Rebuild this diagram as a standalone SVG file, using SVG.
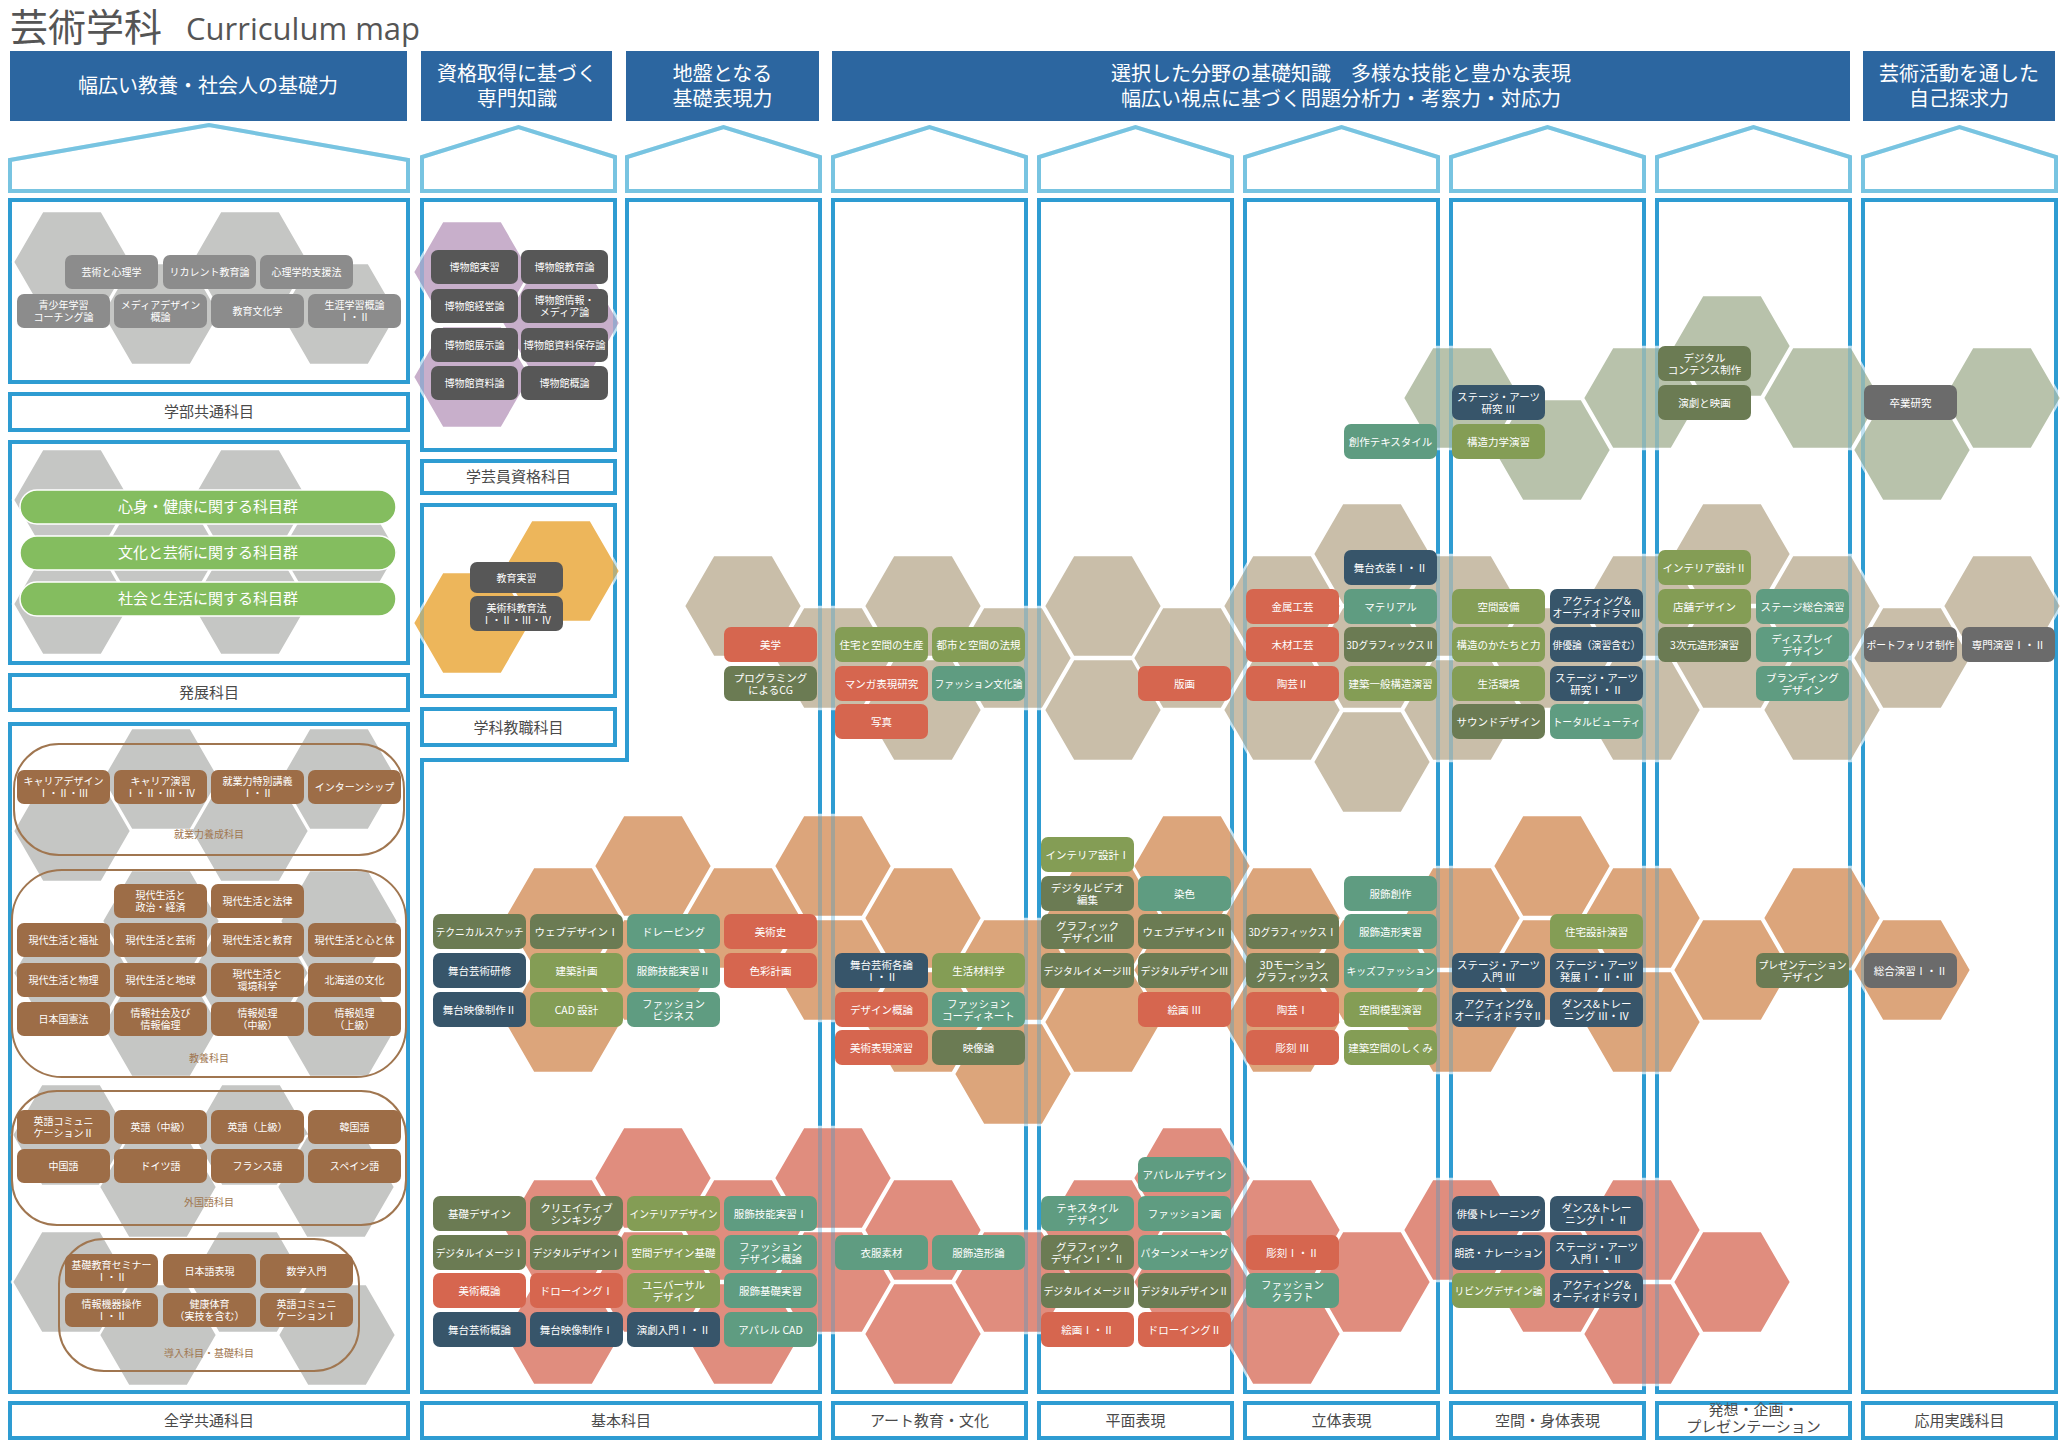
<svg xmlns="http://www.w3.org/2000/svg" xmlns:xlink="http://www.w3.org/1999/xlink" width="2066" height="1448" viewBox="0 0 2066 1448">
<style>
.hd{fill:#2C66A0}
.ht{font-family:"Noto Sans CJK JP","Noto Sans",sans-serif;font-size:20px;fill:#fff;text-anchor:middle}
.pt{fill:none;stroke:#78C4E1;stroke-width:4}
.bd{fill:none;stroke:#2E9CD2;stroke-width:4}
.lt{font-family:"Noto Sans CJK JP","Noto Sans",sans-serif;font-size:15px;fill:#4a4a4a;text-anchor:middle}
.t{font-family:"Noto Sans CJK JP","Noto Sans",sans-serif;font-size:10.5px;fill:#fff;text-anchor:middle}
.t2{font-family:"Noto Sans CJK JP","Noto Sans",sans-serif;font-size:10px;fill:#fff;text-anchor:middle}
.gl{font-family:"Noto Sans CJK JP","Noto Sans",sans-serif;font-size:10px;fill:#A07650;text-anchor:middle}
.hx{stroke:#fff;stroke-width:2.5}
.hg{fill:#C5C6C4}.hp{fill:#C8AFCB}.hy{fill:#EDB65B}.hb{fill:#C9BEA9}.hgr{fill:#B8C2AB}.ho{fill:#DCA57B}.hr{fill:#E08D7E}
.dol{fill:#6B7B53}.lol{fill:#849D55}.tea{fill:#5F9C81}.nav{fill:#37556A}.red{fill:#D6664F}.gry{fill:#6B6B6B}.mus{fill:#575757}.lg{fill:#8C8C8C}.brn{fill:#9D6D47}
.grp{fill:none;stroke:#A07650;stroke-width:2}
.bar{fill:#84BD5F;stroke:#fff;stroke-width:1.5}
.bt{font-family:"Noto Sans CJK JP","Noto Sans",sans-serif;font-size:15px;fill:#fff;text-anchor:middle}
</style>
<defs>
<polygon id="hx" points="59,0 29.5,51.1 -29.5,51.1 -59,0 -29.5,-51.1 29.5,-51.1"/>
</defs>
<rect width="2066" height="1448" fill="#fff"/>
<g id="title">
<text x="10" y="41" font-family="Noto Sans CJK JP, Noto Sans, sans-serif" font-size="38" fill="#555">芸術学科</text>
<text x="186" y="40" font-family="Open Sans, Liberation Sans, sans-serif" font-size="31" fill="#555">Curriculum map</text>
</g>
<g id="headers">
<rect class="hd" x="10" y="51" width="397" height="70"/>
<text class="ht" x="208" y="93">幅広い教養・社会人の基礎力</text>
<rect class="hd" x="421" y="51" width="191" height="70"/>
<text class="ht" x="517" y="81">資格取得に基づく</text><text class="ht" x="517" y="106">専門知識</text>
<rect class="hd" x="626" y="51" width="193" height="70"/>
<text class="ht" x="722.5" y="81">地盤となる</text><text class="ht" x="722.5" y="106">基礎表現力</text>
<rect class="hd" x="832" y="51" width="1018" height="70"/>
<text class="ht" x="1341" y="81">選択した分野の基礎知識　多様な技能と豊かな表現</text><text class="ht" x="1341" y="106">幅広い視点に基づく問題分析力・考察力・対応力</text>
<rect class="hd" x="1863" y="51" width="192" height="70"/>
<text class="ht" x="1959" y="81">芸術活動を通した</text><text class="ht" x="1959" y="106">自己探求力</text>
</g>
<g id="frames">
<polygon class="pt" points="10,191 10,160 209,125 408,160 408,191"/>
<polygon class="pt" points="422,191 422,157 518.5,127 615,157 615,191"/>
<polygon class="pt" points="627,191 627,157 723.5,127 820,157 820,191"/>
<polygon class="pt" points="833,191 833,157 929.5,127 1026,157 1026,191"/>
<polygon class="pt" points="1039,191 1039,157 1135.5,127 1232,157 1232,191"/>
<polygon class="pt" points="1245,191 1245,157 1341.5,127 1438,157 1438,191"/>
<polygon class="pt" points="1451,191 1451,157 1547.5,127 1644,157 1644,191"/>
<polygon class="pt" points="1657,191 1657,157 1753.5,127 1850,157 1850,191"/>
<polygon class="pt" points="1863,191 1863,157 1959.5,127 2056,157 2056,191"/>
<rect class="bd" x="10" y="200" width="398" height="182"/>
<rect class="bd" x="10" y="394" width="398" height="36"/>
<rect class="bd" x="10" y="442" width="398" height="221"/>
<rect class="bd" x="10" y="675" width="398" height="35"/>
<rect class="bd" x="10" y="724" width="398" height="668"/>
<rect class="bd" x="10" y="1403" width="398" height="35"/>
<rect class="bd" x="422" y="200" width="193" height="250"/>
<rect class="bd" x="422" y="461" width="193" height="32"/>
<rect class="bd" x="422" y="505" width="193" height="191"/>
<rect class="bd" x="422" y="709" width="193" height="36"/>
<polygon class="bd" points="627,200 820,200 820,1392 422,1392 422,760 627,760"/>
<rect class="bd" x="833" y="200" width="193" height="1192"/>
<rect class="bd" x="1039" y="200" width="193" height="1192"/>
<rect class="bd" x="1245" y="200" width="193" height="1192"/>
<rect class="bd" x="1451" y="200" width="193" height="1192"/>
<rect class="bd" x="1657" y="200" width="193" height="1192"/>
<rect class="bd" x="1863" y="200" width="193" height="1192"/>
<rect class="bd" x="422" y="1403" width="398" height="35"/>
<rect class="bd" x="833" y="1403" width="193" height="35"/>
<rect class="bd" x="1039" y="1403" width="193" height="35"/>
<rect class="bd" x="1245" y="1403" width="193" height="35"/>
<rect class="bd" x="1451" y="1403" width="193" height="35"/>
<rect class="bd" x="1657" y="1403" width="193" height="35"/>
<rect class="bd" x="1863" y="1403" width="193" height="35"/>
</g>
<g id="labels">
<text class="lt" x="209" y="417">学部共通科目</text>
<text class="lt" x="209" y="698">発展科目</text>
<text class="lt" x="209" y="1426">全学共通科目</text>
<text class="lt" x="518.5" y="482">学芸員資格科目</text>
<text class="lt" x="518.5" y="733">学科教職科目</text>
<text class="lt" x="621" y="1426">基本科目</text>
<text class="lt" x="929.5" y="1426">アート教育・文化</text>
<text class="lt" x="1135.5" y="1426">平面表現</text>
<text class="lt" x="1341.5" y="1426">立体表現</text>
<text class="lt" x="1547.5" y="1426">空間・身体表現</text>
<text class="lt" font-size="11" x="1753.5" y="1415">発想・企画・</text>
<text class="lt" font-size="11" x="1753.5" y="1432">プレゼンテーション</text>
<text class="lt" x="1959.5" y="1426">応用実践科目</text>
</g>
<g id="hexes">
<g class="hx hg">
<use href="#hx" x="72" y="262"/><use href="#hx" x="250" y="262"/><use href="#hx" x="161" y="314"/><use href="#hx" x="339" y="314"/>
<use href="#hx" x="72" y="500"/><use href="#hx" x="250" y="500"/><use href="#hx" x="161" y="552"/><use href="#hx" x="339" y="552"/><use href="#hx" x="72" y="604"/><use href="#hx" x="250" y="604"/>
<use href="#hx" x="161" y="779"/><use href="#hx" x="339" y="779"/><use href="#hx" x="72" y="831"/><use href="#hx" x="250" y="831"/>
<use href="#hx" x="161" y="921"/><use href="#hx" x="339" y="921"/><use href="#hx" x="72" y="973"/><use href="#hx" x="250" y="973"/><use href="#hx" x="161" y="1026"/><use href="#hx" x="339" y="1026"/>
<use href="#hx" x="71" y="1135"/><use href="#hx" x="251" y="1135"/><use href="#hx" x="158" y="1187"/><use href="#hx" x="336" y="1187"/>
<use href="#hx" x="71" y="1282"/><use href="#hx" x="248" y="1282"/><use href="#hx" x="158" y="1335"/><use href="#hx" x="337" y="1335"/>
</g>
<g class="hx hp"><use href="#hx" x="472" y="272"/><use href="#hx" x="561" y="323"/><use href="#hx" x="472" y="377"/></g>
<g class="hx hy"><use href="#hx" x="561" y="571"/><use href="#hx" x="472" y="623"/></g>
<g class="hx hgr">
<use href="#hx" x="1462" y="398"/><use href="#hx" x="1552" y="450"/><use href="#hx" x="1642" y="398"/><use href="#hx" x="1732" y="346"/><use href="#hx" x="1822" y="398"/><use href="#hx" x="1912" y="450"/><use href="#hx" x="2002" y="398"/>
</g>
<g class="hx hb">
<use href="#hx" x="743" y="606"/><use href="#hx" x="833" y="658"/><use href="#hx" x="923" y="606"/><use href="#hx" x="923" y="710"/><use href="#hx" x="1013" y="658"/><use href="#hx" x="1103" y="606"/><use href="#hx" x="1103" y="710"/><use href="#hx" x="1192" y="658"/><use href="#hx" x="1282" y="606"/><use href="#hx" x="1282" y="710"/><use href="#hx" x="1372" y="554"/><use href="#hx" x="1372" y="658"/><use href="#hx" x="1372" y="762"/><use href="#hx" x="1462" y="606"/><use href="#hx" x="1462" y="710"/><use href="#hx" x="1552" y="658"/><use href="#hx" x="1642" y="606"/><use href="#hx" x="1642" y="710"/><use href="#hx" x="1732" y="554"/><use href="#hx" x="1732" y="658"/><use href="#hx" x="1822" y="606"/><use href="#hx" x="1822" y="710"/><use href="#hx" x="1912" y="658"/><use href="#hx" x="2002" y="606"/>
</g>
<g class="hx ho">
<use href="#hx" x="563" y="918"/><use href="#hx" x="563" y="1022"/><use href="#hx" x="653" y="866"/><use href="#hx" x="653" y="970"/><use href="#hx" x="743" y="918"/><use href="#hx" x="833" y="866"/><use href="#hx" x="833" y="970"/><use href="#hx" x="923" y="918"/><use href="#hx" x="923" y="1022"/><use href="#hx" x="1013" y="970"/><use href="#hx" x="1013" y="1074"/><use href="#hx" x="1103" y="918"/><use href="#hx" x="1103" y="1022"/><use href="#hx" x="1192" y="866"/><use href="#hx" x="1192" y="970"/><use href="#hx" x="1282" y="918"/><use href="#hx" x="1282" y="1022"/><use href="#hx" x="1372" y="970"/><use href="#hx" x="1462" y="918"/><use href="#hx" x="1462" y="1022"/><use href="#hx" x="1552" y="866"/><use href="#hx" x="1552" y="970"/><use href="#hx" x="1642" y="918"/><use href="#hx" x="1642" y="1022"/><use href="#hx" x="1732" y="970"/><use href="#hx" x="1822" y="918"/><use href="#hx" x="1912" y="970"/>
</g>
<g class="hx hr">
<use href="#hx" x="563" y="1230"/><use href="#hx" x="563" y="1334"/><use href="#hx" x="653" y="1178"/><use href="#hx" x="653" y="1282"/><use href="#hx" x="743" y="1230"/><use href="#hx" x="743" y="1334"/><use href="#hx" x="833" y="1178"/><use href="#hx" x="833" y="1282"/><use href="#hx" x="923" y="1230"/><use href="#hx" x="923" y="1334"/><use href="#hx" x="1013" y="1282"/><use href="#hx" x="1103" y="1230"/><use href="#hx" x="1192" y="1178"/><use href="#hx" x="1192" y="1282"/><use href="#hx" x="1282" y="1230"/><use href="#hx" x="1282" y="1334"/><use href="#hx" x="1372" y="1282"/><use href="#hx" x="1462" y="1230"/><use href="#hx" x="1552" y="1282"/><use href="#hx" x="1642" y="1230"/><use href="#hx" x="1642" y="1334"/><use href="#hx" x="1732" y="1282"/>
</g>
</g>
<use href="#frames" opacity="0.3"/>
<g id="groups">
<rect class="grp" x="14" y="744" width="390" height="111" rx="45"/>
<text class="gl" x="209" y="838">就業力養成科目</text>
<rect class="grp" x="12" y="870" width="394" height="207" rx="50"/>
<text class="gl" x="209" y="1062">教養科目</text>
<rect class="grp" x="12" y="1091" width="394" height="134" rx="45"/>
<text class="gl" x="209" y="1206">外国語科目</text>
<rect class="grp" x="59" y="1239" width="300" height="132" rx="45"/>
<text class="gl" x="209" y="1357">導入科目・基礎科目</text>
</g>
<g id="bars">
<rect class="bar" x="20" y="490" width="376" height="34" rx="17"/><text class="bt" x="208" y="512">心身・健康に関する科目群</text>
<rect class="bar" x="20" y="536" width="376" height="34" rx="17"/><text class="bt" x="208" y="558">文化と芸術に関する科目群</text>
<rect class="bar" x="20" y="582" width="376" height="34" rx="17"/><text class="bt" x="208" y="604">社会と生活に関する科目群</text>
</g>
<g id="c1nodes">
<g id="a1"><rect class="lg" x="65" y="255" width="93" height="34" rx="7"/><text class="t2" x="111.5" y="275.6">芸術と心理学</text></g>
<g id="a2"><rect class="lg" x="163" y="255" width="93" height="34" rx="7"/><text class="t2" x="209.5" y="275.6">リカレント教育論</text></g>
<g id="a3"><rect class="lg" x="260" y="255" width="93" height="34" rx="7"/><text class="t2" x="306.5" y="275.6">心理学的支援法</text></g>
<g id="a4"><rect class="lg" x="17" y="294" width="93" height="34" rx="7"/><text class="t2" x="63.5" y="308.6">青少年学習</text><text class="t2" x="63.5" y="320.6">コーチング論</text></g>
<g id="a5"><rect class="lg" x="114" y="294" width="93" height="34" rx="7"/><text class="t2" x="160.5" y="308.6">メディアデザイン</text><text class="t2" x="160.5" y="320.6">概論</text></g>
<g id="a6"><rect class="lg" x="211" y="294" width="93" height="34" rx="7"/><text class="t2" x="257.5" y="314.6">教育文化学</text></g>
<g id="a7"><rect class="lg" x="308" y="294" width="93" height="34" rx="7"/><text class="t2" x="354.5" y="308.6">生涯学習概論</text><text class="t2" x="354.5" y="320.6">Ⅰ・Ⅱ</text></g>
<g id="b1"><rect class="brn" x="17" y="770" width="93" height="34" rx="7"/><text class="t2" x="63.5" y="784.6">キャリアデザイン</text><text class="t2" x="63.5" y="796.6">Ⅰ・Ⅱ・Ⅲ</text></g>
<g id="b2"><rect class="brn" x="114" y="770" width="93" height="34" rx="7"/><text class="t2" x="160.5" y="784.6">キャリア演習</text><text class="t2" x="160.5" y="796.6">Ⅰ・Ⅱ・Ⅲ・Ⅳ</text></g>
<g id="b3"><rect class="brn" x="211" y="770" width="93" height="34" rx="7"/><text class="t2" x="257.5" y="784.6">就業力特別講義</text><text class="t2" x="257.5" y="796.6">Ⅰ・Ⅱ</text></g>
<g id="b4"><rect class="brn" x="308" y="770" width="93" height="34" rx="7"/><text class="t2" x="354.5" y="790.6">インターンシップ</text></g>
<g id="b5"><rect class="brn" x="114" y="884" width="93" height="34" rx="7"/><text class="t2" x="160.5" y="898.6">現代生活と</text><text class="t2" x="160.5" y="910.6">政治・経済</text></g>
<g id="b6"><rect class="brn" x="211" y="884" width="93" height="34" rx="7"/><text class="t2" x="257.5" y="904.6">現代生活と法律</text></g>
<g id="b7"><rect class="brn" x="17" y="923" width="93" height="34" rx="7"/><text class="t2" x="63.5" y="943.6">現代生活と福祉</text></g>
<g id="b8"><rect class="brn" x="114" y="923" width="93" height="34" rx="7"/><text class="t2" x="160.5" y="943.6">現代生活と芸術</text></g>
<g id="b9"><rect class="brn" x="211" y="923" width="93" height="34" rx="7"/><text class="t2" x="257.5" y="943.6">現代生活と教育</text></g>
<g id="b10"><rect class="brn" x="308" y="923" width="93" height="34" rx="7"/><text class="t2" x="354.5" y="943.6">現代生活と心と体</text></g>
<g id="b11"><rect class="brn" x="17" y="963" width="93" height="34" rx="7"/><text class="t2" x="63.5" y="983.6">現代生活と物理</text></g>
<g id="b12"><rect class="brn" x="114" y="963" width="93" height="34" rx="7"/><text class="t2" x="160.5" y="983.6">現代生活と地球</text></g>
<g id="b13"><rect class="brn" x="211" y="963" width="93" height="34" rx="7"/><text class="t2" x="257.5" y="977.6">現代生活と</text><text class="t2" x="257.5" y="989.6">環境科学</text></g>
<g id="b14"><rect class="brn" x="308" y="963" width="93" height="34" rx="7"/><text class="t2" x="354.5" y="983.6">北海道の文化</text></g>
<g id="b15"><rect class="brn" x="17" y="1002" width="93" height="34" rx="7"/><text class="t2" x="63.5" y="1022.6">日本国憲法</text></g>
<g id="b16"><rect class="brn" x="114" y="1002" width="93" height="34" rx="7"/><text class="t2" x="160.5" y="1016.6">情報社会及び</text><text class="t2" x="160.5" y="1028.6">情報倫理</text></g>
<g id="b17"><rect class="brn" x="211" y="1002" width="93" height="34" rx="7"/><text class="t2" x="257.5" y="1016.6">情報処理</text><text class="t2" x="257.5" y="1028.6">（中級）</text></g>
<g id="b18"><rect class="brn" x="308" y="1002" width="93" height="34" rx="7"/><text class="t2" x="354.5" y="1016.6">情報処理</text><text class="t2" x="354.5" y="1028.6">（上級）</text></g>
<g id="b19"><rect class="brn" x="17" y="1110" width="93" height="34" rx="7"/><text class="t2" x="63.5" y="1124.6">英語コミュニ</text><text class="t2" x="63.5" y="1136.6">ケーションⅡ</text></g>
<g id="b20"><rect class="brn" x="114" y="1110" width="93" height="34" rx="7"/><text class="t2" x="160.5" y="1130.6">英語（中級）</text></g>
<g id="b21"><rect class="brn" x="211" y="1110" width="93" height="34" rx="7"/><text class="t2" x="257.5" y="1130.6">英語（上級）</text></g>
<g id="b22"><rect class="brn" x="308" y="1110" width="93" height="34" rx="7"/><text class="t2" x="354.5" y="1130.6">韓国語</text></g>
<g id="b23"><rect class="brn" x="17" y="1149" width="93" height="34" rx="7"/><text class="t2" x="63.5" y="1169.6">中国語</text></g>
<g id="b24"><rect class="brn" x="114" y="1149" width="93" height="34" rx="7"/><text class="t2" x="160.5" y="1169.6">ドイツ語</text></g>
<g id="b25"><rect class="brn" x="211" y="1149" width="93" height="34" rx="7"/><text class="t2" x="257.5" y="1169.6">フランス語</text></g>
<g id="b26"><rect class="brn" x="308" y="1149" width="93" height="34" rx="7"/><text class="t2" x="354.5" y="1169.6">スペイン語</text></g>
<g id="b27"><rect class="brn" x="65" y="1254" width="93" height="34" rx="7"/><text class="t2" x="111.5" y="1268.6">基礎教育セミナー</text><text class="t2" x="111.5" y="1280.6">Ⅰ・Ⅱ</text></g>
<g id="b28"><rect class="brn" x="163" y="1254" width="93" height="34" rx="7"/><text class="t2" x="209.5" y="1274.6">日本語表現</text></g>
<g id="b29"><rect class="brn" x="260" y="1254" width="93" height="34" rx="7"/><text class="t2" x="306.5" y="1274.6">数学入門</text></g>
<g id="b30"><rect class="brn" x="65" y="1293" width="93" height="34" rx="7"/><text class="t2" x="111.5" y="1307.6">情報機器操作</text><text class="t2" x="111.5" y="1319.6">Ⅰ・Ⅱ</text></g>
<g id="b31"><rect class="brn" x="163" y="1293" width="93" height="34" rx="7"/><text class="t2" x="209.5" y="1307.6">健康体育</text><text class="t2" x="209.5" y="1319.6">（実技を含む）</text></g>
<g id="b32"><rect class="brn" x="260" y="1293" width="93" height="34" rx="7"/><text class="t2" x="306.5" y="1307.6">英語コミュニ</text><text class="t2" x="306.5" y="1319.6">ケーションⅠ</text></g>
</g>
<g id="c2nodes">
<g id="m1"><rect class="mus" x="431" y="250" width="87" height="34" rx="7"/><text class="t2" x="474.5" y="270.6">博物館実習</text></g>
<g id="m2"><rect class="mus" x="521" y="250" width="87" height="34" rx="7"/><text class="t2" x="564.5" y="270.6">博物館教育論</text></g>
<g id="m3"><rect class="mus" x="431" y="289" width="87" height="34" rx="7"/><text class="t2" x="474.5" y="309.6">博物館経営論</text></g>
<g id="m4"><rect class="mus" x="521" y="289" width="87" height="34" rx="7"/><text class="t2" x="564.5" y="303.6">博物館情報・</text><text class="t2" x="564.5" y="315.6">メディア論</text></g>
<g id="m5"><rect class="mus" x="431" y="328" width="87" height="34" rx="7"/><text class="t2" x="474.5" y="348.6">博物館展示論</text></g>
<g id="m6"><rect class="mus" x="521" y="328" width="87" height="34" rx="7"/><text class="t2" x="564.5" y="348.6" textLength="82" lengthAdjust="spacingAndGlyphs">博物館資料保存論</text></g>
<g id="m7"><rect class="mus" x="431" y="366" width="87" height="34" rx="7"/><text class="t2" x="474.5" y="386.6">博物館資料論</text></g>
<g id="m8"><rect class="mus" x="521" y="366" width="87" height="34" rx="7"/><text class="t2" x="564.5" y="386.6">博物館概論</text></g>
<g id="k1"><rect class="mus" x="470" y="562" width="93" height="31" rx="7"/><text class="t2" x="516.5" y="581.5">教育実習</text></g>
<g id="k2"><rect class="mus" x="470" y="596" width="93" height="35" rx="7"/><text class="t2" x="516.5" y="611.5">美術科教育法</text><text class="t2" x="516.5" y="623.5">Ⅰ・Ⅱ・Ⅲ・Ⅳ</text></g>
</g>
<g id="nodes">
<g id="n1"><rect class="red" x="724" y="627" width="93" height="35" rx="7"/><text class="t" x="770.5" y="648.5">美学</text></g>
<g id="n2"><rect class="dol" x="724" y="666" width="93" height="35" rx="7"/><text class="t" x="770.5" y="681.5">プログラミング</text><text class="t" x="770.5" y="693.5">によるCG</text></g>
<g id="n3"><rect class="lol" x="835" y="627" width="93" height="35" rx="7"/><text class="t" x="881.5" y="648.5">住宅と空間の生産</text></g>
<g id="n4"><rect class="lol" x="932" y="627" width="93" height="35" rx="7"/><text class="t" x="978.5" y="648.5">都市と空間の法規</text></g>
<g id="n5"><rect class="red" x="835" y="666" width="93" height="35" rx="7"/><text class="t" x="881.5" y="687.5">マンガ表現研究</text></g>
<g id="n6"><rect class="tea" x="932" y="666" width="93" height="35" rx="7"/><text class="t" x="978.5" y="687.5" textLength="88" lengthAdjust="spacingAndGlyphs">ファッション文化論</text></g>
<g id="n7"><rect class="red" x="835" y="704" width="93" height="35" rx="7"/><text class="t" x="881.5" y="725.5">写真</text></g>
<g id="n8"><rect class="red" x="1138" y="666" width="93" height="35" rx="7"/><text class="t" x="1184.5" y="687.5">版画</text></g>
<g id="n9"><rect class="red" x="1246" y="589" width="93" height="35" rx="7"/><text class="t" x="1292.5" y="610.5">金属工芸</text></g>
<g id="n10"><rect class="red" x="1246" y="627" width="93" height="35" rx="7"/><text class="t" x="1292.5" y="648.5">木材工芸</text></g>
<g id="n11"><rect class="red" x="1246" y="666" width="93" height="35" rx="7"/><text class="t" x="1292.5" y="687.5">陶芸Ⅱ</text></g>
<g id="n12"><rect class="nav" x="1344" y="550" width="93" height="35" rx="7"/><text class="t" x="1390.5" y="571.5">舞台衣装Ⅰ・Ⅱ</text></g>
<g id="n13"><rect class="tea" x="1344" y="589" width="93" height="35" rx="7"/><text class="t" x="1390.5" y="610.5">マテリアル</text></g>
<g id="n14"><rect class="dol" x="1344" y="627" width="93" height="35" rx="7"/><text class="t" x="1390.5" y="648.5" textLength="88" lengthAdjust="spacingAndGlyphs">3DグラフィックスⅡ</text></g>
<g id="n15"><rect class="lol" x="1344" y="666" width="93" height="35" rx="7"/><text class="t" x="1390.5" y="687.5">建築一般構造演習</text></g>
<g id="n16"><rect class="lol" x="1452" y="589" width="93" height="35" rx="7"/><text class="t" x="1498.5" y="610.5">空間設備</text></g>
<g id="n17"><rect class="lol" x="1452" y="627" width="93" height="35" rx="7"/><text class="t" x="1498.5" y="648.5">構造のかたちと力</text></g>
<g id="n18"><rect class="lol" x="1452" y="666" width="93" height="35" rx="7"/><text class="t" x="1498.5" y="687.5">生活環境</text></g>
<g id="n19"><rect class="dol" x="1452" y="704" width="93" height="35" rx="7"/><text class="t" x="1498.5" y="725.5">サウンドデザイン</text></g>
<g id="n20"><rect class="nav" x="1550" y="589" width="93" height="35" rx="7"/><text class="t" x="1596.5" y="604.5">アクティング&amp;</text><text class="t" x="1596.5" y="616.5" textLength="88" lengthAdjust="spacingAndGlyphs">オーディオドラマⅢ</text></g>
<g id="n21"><rect class="nav" x="1550" y="627" width="93" height="35" rx="7"/><text class="t" x="1596.5" y="648.5" textLength="88" lengthAdjust="spacingAndGlyphs">俳優論（演習含む）</text></g>
<g id="n22"><rect class="nav" x="1550" y="666" width="93" height="35" rx="7"/><text class="t" x="1596.5" y="681.5">ステージ・アーツ</text><text class="t" x="1596.5" y="693.5">研究Ⅰ・Ⅱ</text></g>
<g id="n23"><rect class="tea" x="1550" y="704" width="93" height="35" rx="7"/><text class="t" x="1596.5" y="725.5" textLength="88" lengthAdjust="spacingAndGlyphs">トータルビューティ</text></g>
<g id="n24"><rect class="lol" x="1658" y="550" width="93" height="35" rx="7"/><text class="t" x="1704.5" y="571.5">インテリア設計Ⅱ</text></g>
<g id="n25"><rect class="lol" x="1658" y="589" width="93" height="35" rx="7"/><text class="t" x="1704.5" y="610.5">店舗デザイン</text></g>
<g id="n26"><rect class="dol" x="1658" y="627" width="93" height="35" rx="7"/><text class="t" x="1704.5" y="648.5">3次元造形演習</text></g>
<g id="n27"><rect class="tea" x="1756" y="589" width="93" height="35" rx="7"/><text class="t" x="1802.5" y="610.5">ステージ総合演習</text></g>
<g id="n28"><rect class="tea" x="1756" y="627" width="93" height="35" rx="7"/><text class="t" x="1802.5" y="642.5">ディスプレイ</text><text class="t" x="1802.5" y="654.5">デザイン</text></g>
<g id="n29"><rect class="tea" x="1756" y="666" width="93" height="35" rx="7"/><text class="t" x="1802.5" y="681.5">ブランディング</text><text class="t" x="1802.5" y="693.5">デザイン</text></g>
<g id="n30"><rect class="gry" x="1864" y="627" width="93" height="35" rx="7"/><text class="t" x="1910.5" y="648.5" textLength="88" lengthAdjust="spacingAndGlyphs">ポートフォリオ制作</text></g>
<g id="n31"><rect class="gry" x="1962" y="627" width="93" height="35" rx="7"/><text class="t" x="2008.5" y="648.5">専門演習Ⅰ・Ⅱ</text></g>
<g id="n32"><rect class="tea" x="1344" y="424" width="93" height="35" rx="7"/><text class="t" x="1390.5" y="445.5">創作テキスタイル</text></g>
<g id="n33"><rect class="nav" x="1452" y="385" width="93" height="35" rx="7"/><text class="t" x="1498.5" y="400.5">ステージ・アーツ</text><text class="t" x="1498.5" y="412.5">研究 Ⅲ</text></g>
<g id="n34"><rect class="lol" x="1452" y="424" width="93" height="35" rx="7"/><text class="t" x="1498.5" y="445.5">構造力学演習</text></g>
<g id="n35"><rect class="dol" x="1658" y="346" width="93" height="35" rx="7"/><text class="t" x="1704.5" y="361.5">デジタル</text><text class="t" x="1704.5" y="373.5">コンテンス制作</text></g>
<g id="n36"><rect class="dol" x="1658" y="385" width="93" height="35" rx="7"/><text class="t" x="1704.5" y="406.5">演劇と映画</text></g>
<g id="n37"><rect class="gry" x="1864" y="385" width="93" height="35" rx="7"/><text class="t" x="1910.5" y="406.5">卒業研究</text></g>
<g id="n38"><rect class="dol" x="433" y="914" width="93" height="35" rx="7"/><text class="t" x="479.5" y="935.5" textLength="88" lengthAdjust="spacingAndGlyphs">テクニカルスケッチ</text></g>
<g id="n39"><rect class="nav" x="433" y="953" width="93" height="35" rx="7"/><text class="t" x="479.5" y="974.5">舞台芸術研修</text></g>
<g id="n40"><rect class="nav" x="433" y="992" width="93" height="35" rx="7"/><text class="t" x="479.5" y="1013.5">舞台映像制作Ⅱ</text></g>
<g id="n41"><rect class="dol" x="530" y="914" width="93" height="35" rx="7"/><text class="t" x="576.5" y="935.5">ウェブデザインⅠ</text></g>
<g id="n42"><rect class="lol" x="530" y="953" width="93" height="35" rx="7"/><text class="t" x="576.5" y="974.5">建築計画</text></g>
<g id="n43"><rect class="lol" x="530" y="992" width="93" height="35" rx="7"/><text class="t" x="576.5" y="1013.5">CAD 設計</text></g>
<g id="n44"><rect class="tea" x="627" y="914" width="93" height="35" rx="7"/><text class="t" x="673.5" y="935.5">ドレーピング</text></g>
<g id="n45"><rect class="tea" x="627" y="953" width="93" height="35" rx="7"/><text class="t" x="673.5" y="974.5">服飾技能実習Ⅱ</text></g>
<g id="n46"><rect class="tea" x="627" y="992" width="93" height="35" rx="7"/><text class="t" x="673.5" y="1007.5">ファッション</text><text class="t" x="673.5" y="1019.5">ビジネス</text></g>
<g id="n47"><rect class="red" x="724" y="914" width="93" height="35" rx="7"/><text class="t" x="770.5" y="935.5">美術史</text></g>
<g id="n48"><rect class="red" x="724" y="953" width="93" height="35" rx="7"/><text class="t" x="770.5" y="974.5">色彩計画</text></g>
<g id="n49"><rect class="nav" x="835" y="953" width="93" height="35" rx="7"/><text class="t" x="881.5" y="968.5">舞台芸術各論</text><text class="t" x="881.5" y="980.5">Ⅰ・Ⅱ</text></g>
<g id="n50"><rect class="lol" x="932" y="953" width="93" height="35" rx="7"/><text class="t" x="978.5" y="974.5">生活材料学</text></g>
<g id="n51"><rect class="red" x="835" y="992" width="93" height="35" rx="7"/><text class="t" x="881.5" y="1013.5">デザイン概論</text></g>
<g id="n52"><rect class="tea" x="932" y="992" width="93" height="35" rx="7"/><text class="t" x="978.5" y="1007.5">ファッション</text><text class="t" x="978.5" y="1019.5">コーディネート</text></g>
<g id="n53"><rect class="red" x="835" y="1030" width="93" height="35" rx="7"/><text class="t" x="881.5" y="1051.5">美術表現演習</text></g>
<g id="n54"><rect class="dol" x="932" y="1030" width="93" height="35" rx="7"/><text class="t" x="978.5" y="1051.5">映像論</text></g>
<g id="n55"><rect class="lol" x="1041" y="837" width="93" height="35" rx="7"/><text class="t" x="1087.5" y="858.5">インテリア設計Ⅰ</text></g>
<g id="n56"><rect class="dol" x="1041" y="876" width="93" height="35" rx="7"/><text class="t" x="1087.5" y="891.5">デジタルビデオ</text><text class="t" x="1087.5" y="903.5">編集</text></g>
<g id="n57"><rect class="dol" x="1041" y="914" width="93" height="35" rx="7"/><text class="t" x="1087.5" y="929.5">グラフィック</text><text class="t" x="1087.5" y="941.5">デザインⅢ</text></g>
<g id="n58"><rect class="dol" x="1041" y="953" width="93" height="35" rx="7"/><text class="t" x="1087.5" y="974.5" textLength="88" lengthAdjust="spacingAndGlyphs">デジタルイメージⅢ</text></g>
<g id="n59"><rect class="tea" x="1138" y="876" width="93" height="35" rx="7"/><text class="t" x="1184.5" y="897.5">染色</text></g>
<g id="n60"><rect class="dol" x="1138" y="914" width="93" height="35" rx="7"/><text class="t" x="1184.5" y="935.5">ウェブデザインⅡ</text></g>
<g id="n61"><rect class="dol" x="1138" y="953" width="93" height="35" rx="7"/><text class="t" x="1184.5" y="974.5" textLength="88" lengthAdjust="spacingAndGlyphs">デジタルデザインⅢ</text></g>
<g id="n62"><rect class="red" x="1138" y="992" width="93" height="35" rx="7"/><text class="t" x="1184.5" y="1013.5">絵画 Ⅲ</text></g>
<g id="n63"><rect class="dol" x="1246" y="914" width="93" height="35" rx="7"/><text class="t" x="1292.5" y="935.5" textLength="88" lengthAdjust="spacingAndGlyphs">3DグラフィックスⅠ</text></g>
<g id="n64"><rect class="dol" x="1246" y="953" width="93" height="35" rx="7"/><text class="t" x="1292.5" y="968.5">3Dモーション</text><text class="t" x="1292.5" y="980.5">グラフィックス</text></g>
<g id="n65"><rect class="red" x="1246" y="992" width="93" height="35" rx="7"/><text class="t" x="1292.5" y="1013.5">陶芸Ⅰ</text></g>
<g id="n66"><rect class="red" x="1246" y="1030" width="93" height="35" rx="7"/><text class="t" x="1292.5" y="1051.5">彫刻 Ⅲ</text></g>
<g id="n67"><rect class="tea" x="1344" y="876" width="93" height="35" rx="7"/><text class="t" x="1390.5" y="897.5">服飾創作</text></g>
<g id="n68"><rect class="tea" x="1344" y="914" width="93" height="35" rx="7"/><text class="t" x="1390.5" y="935.5">服飾造形実習</text></g>
<g id="n69"><rect class="tea" x="1344" y="953" width="93" height="35" rx="7"/><text class="t" x="1390.5" y="974.5" textLength="88" lengthAdjust="spacingAndGlyphs">キッズファッション</text></g>
<g id="n70"><rect class="lol" x="1344" y="992" width="93" height="35" rx="7"/><text class="t" x="1390.5" y="1013.5">空間模型演習</text></g>
<g id="n71"><rect class="lol" x="1344" y="1030" width="93" height="35" rx="7"/><text class="t" x="1390.5" y="1051.5">建築空間のしくみ</text></g>
<g id="n72"><rect class="nav" x="1452" y="953" width="93" height="35" rx="7"/><text class="t" x="1498.5" y="968.5">ステージ・アーツ</text><text class="t" x="1498.5" y="980.5">入門 Ⅲ</text></g>
<g id="n73"><rect class="nav" x="1452" y="992" width="93" height="35" rx="7"/><text class="t" x="1498.5" y="1007.5">アクティング&amp;</text><text class="t" x="1498.5" y="1019.5" textLength="88" lengthAdjust="spacingAndGlyphs">オーディオドラマⅡ</text></g>
<g id="n74"><rect class="lol" x="1550" y="914" width="93" height="35" rx="7"/><text class="t" x="1596.5" y="935.5">住宅設計演習</text></g>
<g id="n75"><rect class="nav" x="1550" y="953" width="93" height="35" rx="7"/><text class="t" x="1596.5" y="968.5">ステージ・アーツ</text><text class="t" x="1596.5" y="980.5">発展Ⅰ・Ⅱ・Ⅲ</text></g>
<g id="n76"><rect class="nav" x="1550" y="992" width="93" height="35" rx="7"/><text class="t" x="1596.5" y="1007.5">ダンス&amp;トレー</text><text class="t" x="1596.5" y="1019.5">ニング Ⅲ・Ⅳ</text></g>
<g id="n77"><rect class="dol" x="1756" y="953" width="93" height="35" rx="7"/><text class="t" x="1802.5" y="968.5" textLength="88" lengthAdjust="spacingAndGlyphs">プレゼンテーション</text><text class="t" x="1802.5" y="980.5">デザイン</text></g>
<g id="n78"><rect class="gry" x="1864" y="953" width="93" height="35" rx="7"/><text class="t" x="1910.5" y="974.5">総合演習Ⅰ・Ⅱ</text></g>
<g id="n79"><rect class="dol" x="433" y="1196" width="93" height="35" rx="7"/><text class="t" x="479.5" y="1217.5">基礎デザイン</text></g>
<g id="n80"><rect class="dol" x="433" y="1235" width="93" height="35" rx="7"/><text class="t" x="479.5" y="1256.5" textLength="88" lengthAdjust="spacingAndGlyphs">デジタルイメージⅠ</text></g>
<g id="n81"><rect class="red" x="433" y="1273" width="93" height="35" rx="7"/><text class="t" x="479.5" y="1294.5">美術概論</text></g>
<g id="n82"><rect class="nav" x="433" y="1312" width="93" height="35" rx="7"/><text class="t" x="479.5" y="1333.5">舞台芸術概論</text></g>
<g id="n83"><rect class="dol" x="530" y="1196" width="93" height="35" rx="7"/><text class="t" x="576.5" y="1211.5">クリエイティブ</text><text class="t" x="576.5" y="1223.5">シンキング</text></g>
<g id="n84"><rect class="dol" x="530" y="1235" width="93" height="35" rx="7"/><text class="t" x="576.5" y="1256.5" textLength="88" lengthAdjust="spacingAndGlyphs">デジタルデザインⅠ</text></g>
<g id="n85"><rect class="red" x="530" y="1273" width="93" height="35" rx="7"/><text class="t" x="576.5" y="1294.5">ドローイングⅠ</text></g>
<g id="n86"><rect class="nav" x="530" y="1312" width="93" height="35" rx="7"/><text class="t" x="576.5" y="1333.5">舞台映像制作Ⅰ</text></g>
<g id="n87"><rect class="lol" x="627" y="1196" width="93" height="35" rx="7"/><text class="t" x="673.5" y="1217.5" textLength="88" lengthAdjust="spacingAndGlyphs">インテリアデザイン</text></g>
<g id="n88"><rect class="lol" x="627" y="1235" width="93" height="35" rx="7"/><text class="t" x="673.5" y="1256.5">空間デザイン基礎</text></g>
<g id="n89"><rect class="lol" x="627" y="1273" width="93" height="35" rx="7"/><text class="t" x="673.5" y="1288.5">ユニバーサル</text><text class="t" x="673.5" y="1300.5">デザイン</text></g>
<g id="n90"><rect class="nav" x="627" y="1312" width="93" height="35" rx="7"/><text class="t" x="673.5" y="1333.5">演劇入門Ⅰ・Ⅱ</text></g>
<g id="n91"><rect class="tea" x="724" y="1196" width="93" height="35" rx="7"/><text class="t" x="770.5" y="1217.5">服飾技能実習Ⅰ</text></g>
<g id="n92"><rect class="tea" x="724" y="1235" width="93" height="35" rx="7"/><text class="t" x="770.5" y="1250.5">ファッション</text><text class="t" x="770.5" y="1262.5">デザイン概論</text></g>
<g id="n93"><rect class="tea" x="724" y="1273" width="93" height="35" rx="7"/><text class="t" x="770.5" y="1294.5">服飾基礎実習</text></g>
<g id="n94"><rect class="tea" x="724" y="1312" width="93" height="35" rx="7"/><text class="t" x="770.5" y="1333.5">アパレル CAD</text></g>
<g id="n95"><rect class="tea" x="835" y="1235" width="93" height="35" rx="7"/><text class="t" x="881.5" y="1256.5">衣服素材</text></g>
<g id="n96"><rect class="tea" x="932" y="1235" width="93" height="35" rx="7"/><text class="t" x="978.5" y="1256.5">服飾造形論</text></g>
<g id="n97"><rect class="tea" x="1138" y="1157" width="93" height="35" rx="7"/><text class="t" x="1184.5" y="1178.5">アパレルデザイン</text></g>
<g id="n98"><rect class="tea" x="1041" y="1196" width="93" height="35" rx="7"/><text class="t" x="1087.5" y="1211.5">テキスタイル</text><text class="t" x="1087.5" y="1223.5">デザイン</text></g>
<g id="n99"><rect class="tea" x="1138" y="1196" width="93" height="35" rx="7"/><text class="t" x="1184.5" y="1217.5">ファッション画</text></g>
<g id="n100"><rect class="dol" x="1041" y="1235" width="93" height="35" rx="7"/><text class="t" x="1087.5" y="1250.5">グラフィック</text><text class="t" x="1087.5" y="1262.5">デザインⅠ・Ⅱ</text></g>
<g id="n101"><rect class="tea" x="1138" y="1235" width="93" height="35" rx="7"/><text class="t" x="1184.5" y="1256.5" textLength="88" lengthAdjust="spacingAndGlyphs">パターンメーキング</text></g>
<g id="n102"><rect class="dol" x="1041" y="1273" width="93" height="35" rx="7"/><text class="t" x="1087.5" y="1294.5" textLength="88" lengthAdjust="spacingAndGlyphs">デジタルイメージⅡ</text></g>
<g id="n103"><rect class="dol" x="1138" y="1273" width="93" height="35" rx="7"/><text class="t" x="1184.5" y="1294.5" textLength="88" lengthAdjust="spacingAndGlyphs">デジタルデザインⅡ</text></g>
<g id="n104"><rect class="red" x="1041" y="1312" width="93" height="35" rx="7"/><text class="t" x="1087.5" y="1333.5">絵画Ⅰ・Ⅱ</text></g>
<g id="n105"><rect class="red" x="1138" y="1312" width="93" height="35" rx="7"/><text class="t" x="1184.5" y="1333.5">ドローイングⅡ</text></g>
<g id="n106"><rect class="red" x="1246" y="1235" width="93" height="35" rx="7"/><text class="t" x="1292.5" y="1256.5">彫刻Ⅰ・Ⅱ</text></g>
<g id="n107"><rect class="tea" x="1246" y="1273" width="93" height="35" rx="7"/><text class="t" x="1292.5" y="1288.5">ファッション</text><text class="t" x="1292.5" y="1300.5">クラフト</text></g>
<g id="n108"><rect class="nav" x="1452" y="1196" width="93" height="35" rx="7"/><text class="t" x="1498.5" y="1217.5">俳優トレーニング</text></g>
<g id="n109"><rect class="nav" x="1452" y="1235" width="93" height="35" rx="7"/><text class="t" x="1498.5" y="1256.5" textLength="88" lengthAdjust="spacingAndGlyphs">朗読・ナレーション</text></g>
<g id="n110"><rect class="lol" x="1452" y="1273" width="93" height="35" rx="7"/><text class="t" x="1498.5" y="1294.5" textLength="88" lengthAdjust="spacingAndGlyphs">リビングデザイン論</text></g>
<g id="n111"><rect class="nav" x="1550" y="1196" width="93" height="35" rx="7"/><text class="t" x="1596.5" y="1211.5">ダンス&amp;トレー</text><text class="t" x="1596.5" y="1223.5">ニングⅠ・Ⅱ</text></g>
<g id="n112"><rect class="nav" x="1550" y="1235" width="93" height="35" rx="7"/><text class="t" x="1596.5" y="1250.5">ステージ・アーツ</text><text class="t" x="1596.5" y="1262.5">入門Ⅰ・Ⅱ</text></g>
<g id="n113"><rect class="nav" x="1550" y="1273" width="93" height="35" rx="7"/><text class="t" x="1596.5" y="1288.5">アクティング&amp;</text><text class="t" x="1596.5" y="1300.5" textLength="88" lengthAdjust="spacingAndGlyphs">オーディオドラマⅠ</text></g>
</g>
</svg>
